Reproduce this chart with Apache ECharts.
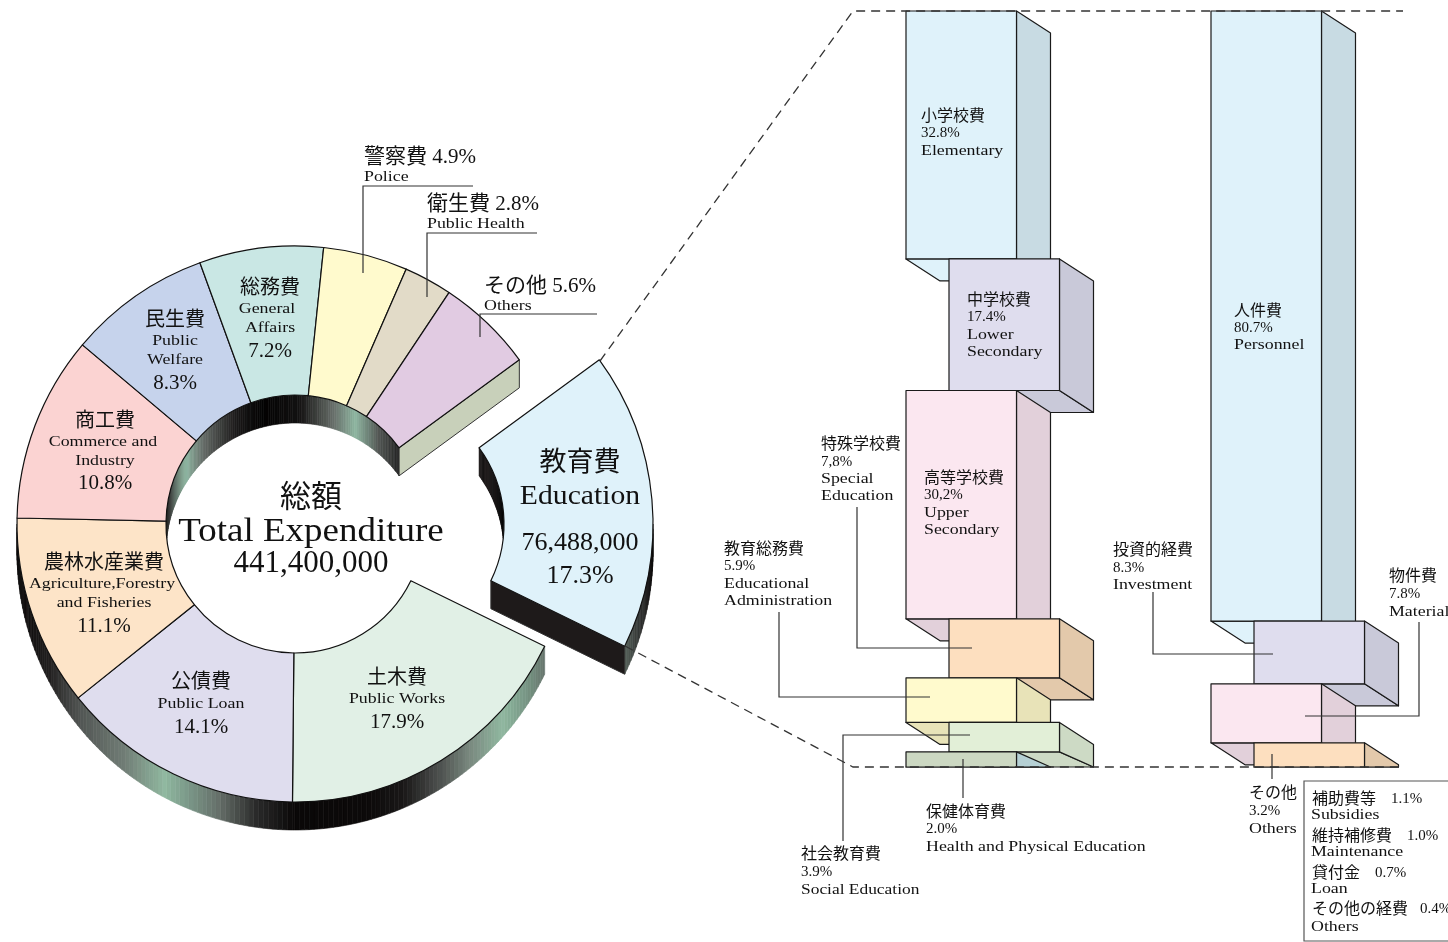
<!DOCTYPE html>
<html><head><meta charset="utf-8">
<style>html,body{margin:0;padding:0;background:#fff}#c{width:1448px;height:942px}</style>
<script src="https://cdn.jsdelivr.net/npm/echarts@6/dist/echarts.min.js"></script>
</head><body><div id="c"></div>
<script>
// ---------- data ----------
const pieCategories = ['教育費','土木費','公債費','農林水産業費','商工費','民生費','総務費','警察費','衛生費','その他'];
const pieValues = [17.3,17.9,14.1,11.1,10.8,8.3,7.2,4.9,2.8,5.6];
const pieColors = ['#dff2fa','#e1f0e6','#dfddee','#fde4c8','#fbd3d2','#c6d3ec','#c9e7e4','#fffacd','#e2dbc8','#e1cbe2'];

const purposeNames = ['小学校費','中学校費','高等学校費','特殊学校費','教育総務費','社会教育費','保健体育費'];
const purposeValues = [32.8,17.4,30.2,7.8,5.9,3.9,2.0];
const purposeFront = ['#dff2fa','#dfddee','#fbe7f0','#fddfbf','#fffacd','#e2efd7','#ccd8c2'];
const purposeSide  = ['#c8dbe3','#c9c9d9','#e2d0da','#e3c9ab','#e8e3b8','#cddac5','#b5d0d4'];
const purposeUnder = ['#dff2fa','#c9c9d9','#e2d0da','#e3c9ab','#e8e3b8','#cddac5','#b5d0d4'];

const natureNames = ['人件費','投資的経費','物件費','その他'];
const natureValues = [80.7,8.3,7.8,3.2];
const natureFront = ['#dff2fa','#dfddee','#fbe7f0','#fddfbf'];
const natureSide  = ['#c8dbe3','#c9c9d9','#e2d0da','#e3c9ab'];
const natureUnder = ['#dff2fa','#c9c9d9','#e2d0da','#e3c9ab'];

// ---------- geometry / style ----------
const C = [295,524], RO = 278, RI = 129, EXPLODE = 80, WALL = 28, START = 53.8;
const BW = 110.5, STAGGER = 43, DX = 34, DY = 22;
const SERIF = '"Liberation Serif","Noto Sans CJK JP",serif';

const shadeEduOuter = [[90,'#060606'],[100,'#141212'],[110,'#3a3d3b'],[117,'#5e6a62']];
const shadeOuter = [[116,'#66746c'],[125,'#7a9a88'],[132,'#90b8a0'],[141,'#7a8a80'],[149,'#4c4f4d'],[157,'#1a1818'],[165,'#0c0a0a'],[180,'#0a0808'],[188,'#2a2a2a'],[196,'#66706a'],[203,'#7c9a8a'],[208,'#90b8a0'],[218,'#707c75'],[231,'#505452'],[242,'#222020'],[255,'#100e0e'],[270,'#0e0c0c']];
const shadeInner = [[270,'#111111'],[285,'#3a3c3b'],[303,'#8db5a0'],[315,'#666c68'],[333,'#1c1a1a'],[346,'#030303'],[362,'#141212'],[377,'#666c68'],[388,'#8db5a0'],[400,'#555a57'],[414,'#222222']];
const shadeEduInner = [[53,'#1a1616'],[90,'#060606']];

function pt(c,r,deg,dy){const a=deg*Math.PI/180;return [c[0]+r*Math.sin(a),c[1]-r*Math.cos(a)+(dy||0)];}
function hex(s){return [1,3,5].map(i=>parseInt(s.substr(i,2),16));}
function shade(tbl,a){
  if(a<=tbl[0][0])return tbl[0][1];
  for(let i=1;i<tbl.length;i++){
    if(a<=tbl[i][0]){const t=(a-tbl[i-1][0])/(tbl[i][0]-tbl[i-1][0]),p=hex(tbl[i-1][1]),q=hex(tbl[i][1]);
      return 'rgb('+p.map((v,k)=>Math.round(v+(q[k]-v)*t)).join(',')+')';}
  }
  return tbl[tbl.length-1][1];
}
function strips(c,r,a0,a1,tbl,out){
  for(let a=a0;a<a1;a+=1){
    const b=Math.min(a+1,a1), col=shade(tbl,(a+b)/2);
    out.push({type:'polygon',shape:{points:[pt(c,r,a),pt(c,r,b),pt(c,r,b,WALL),pt(c,r,a,WALL)]},style:{fill:col,stroke:col,lineWidth:0.6},silent:true});
  }
}
function face(c,a,fill,out){
  out.push({type:'polygon',shape:{points:[pt(c,RI,a),pt(c,RO,a),pt(c,RO,a,WALL),pt(c,RI,a,WALL)]},style:{fill:fill,stroke:'#333',lineWidth:1},silent:true});
}
function sliceAngles(i){let s=0;for(let k=0;k<i;k++)s+=pieValues[k];return [START+s*3.6,START+(s+pieValues[i])*3.6];}

function renderWall(params){
  const i=params.dataIndex,[a0,a1]=sliceAngles(i),kids=[];
  if(i===0){
    const c=[C[0]+EXPLODE,C[1]];
    strips(c,RI,a0,90,shadeEduInner,kids);
    strips(c,RO,90,a1,shadeEduOuter,kids);
    face(c,a1,'#1e1a1a',kids);
  }else{
    if(a0<270)strips(C,RO,a0,Math.min(a1,270),shadeOuter,kids);
    if(a1>270)strips(C,RI,Math.max(a0,270),a1,shadeInner,kids);
    if(i===pieValues.length-1)face(C,a1,'#c8d0ba',kids);
  }
  return {type:'group',children:kids};
}
function renderBlock(params,api){
  const col=api.value(0),top=api.coord([col,api.value(1)]),bot=api.coord([col,api.value(2)]);
  const ymax=api.coord([col,100])[1], x0=top[0]+api.value(3)*STAGGER, x1=x0+BW;
  const front=col===0?purposeFront:natureFront, side=col===0?purposeSide:natureSide, under=col===0?purposeUnder:natureUnder;
  const k=api.value(4), Y=y=>Math.min(y,ymax), st={stroke:'#1a1a1a',lineWidth:1.2,lineJoin:'round'};
  const kids=[
   {type:'polygon',shape:{points:[[x0,Y(bot[1])],[x1,Y(bot[1])],[x1+DX,Y(bot[1]+DY)],[x0+DX,Y(bot[1]+DY)]]},style:Object.assign({fill:under[k]},st)},
   {type:'polygon',shape:{points:[[x1,top[1]],[x1+DX,Y(top[1]+DY)],[x1+DX,Y(bot[1]+DY)],[x1,Y(bot[1])]]},style:Object.assign({fill:side[k]},st)},
   {type:'rect',shape:{x:x0,y:top[1],width:BW,height:bot[1]-top[1]},style:Object.assign({fill:front[k]},st)}
  ];
  return {type:'group',children:kids};
}
function blocks(col,vals){let s=0;return vals.map((v,i)=>{const r=[col,s,s+v,i%2,i];s+=v;return r;});}

// ---------- text layout: [text, x, y, size, align, xScale] ----------
const L=1.19;
const textLayout = [
 ['総額',311,496,31,'center'],['Total Expenditure',311,529,33,'center',1.12],['441,400,000',311,561,31,'center'],
 ['教育費',580,461,27,'center'],['Education',580,494,27,'center',1.1],['76,488,000',580,541,26,'center'],['17.3%',580,574,26,'center'],
 ['土木費',397,677,20,'center'],['Public Works',397,698,15,'center',L],['17.9%',397,720,21,'center'],
 ['公債費',201,681,20,'center'],['Public Loan',201,703,15,'center',L],['14.1%',201,725,21,'center'],
 ['農林水産業費',104,562,20,'center'],['Agriculture,Forestry',102,583,15,'center',1.19],['and Fisheries',104,602,15,'center',L],['11.1%',104,624,21,'center'],
 ['商工費',105,420,20,'center'],['Commerce and',103,441,15,'center',L],['Industry',105,460,15,'center',L],['10.8%',105,481,21,'center'],
 ['民生費',175,319,20,'center'],['Public',175,340,15,'center',L],['Welfare',175,359,15,'center',L],['8.3%',175,381,21,'center'],
 ['総務費',270,287,20,'center'],['General',267,308,15,'center',L],['Affairs',270,327,15,'center',L],['7.2%',270,349,21,'center'],
 ['警察費 4.9%',364,155,21,'left'],['Police',364,176,15,'left',L],
 ['衛生費 2.8%',427,202,21,'left'],['Public Health',427,223,15,'left',L],
 ['その他 5.6%',484,284,21,'left'],['Others',484,305,15,'left',L],
 ['小学校費',921,115,16,'left'],['32.8%',921,132,15,'left'],['Elementary',921,150,15,'left',L],
 ['中学校費',967,299,16,'left'],['17.4%',967,316,15,'left'],['Lower',967,334,15,'left',L],['Secondary',967,351,15,'left',L],
 ['高等学校費',924,477,16,'left'],['30,2%',924,494,15,'left'],['Upper',924,512,15,'left',L],['Secondary',924,529,15,'left',L],
 ['特殊学校費',821,443,16,'left'],['7,8%',821,461,15,'left'],['Special',821,478,15,'left',L],['Education',821,495,15,'left',L],
 ['教育総務費',724,548,16,'left'],['5.9%',724,565,15,'left'],['Educational',724,583,15,'left',L],['Administration',724,600,15,'left',L],
 ['社会教育費',801,853,16,'left'],['3.9%',801,871,15,'left'],['Social Education',801,889,15,'left',1.16],
 ['保健体育費',926,811,16,'left'],['2.0%',926,828,15,'left'],['Health and Physical Education',926,846,15,'left',L],
 ['人件費',1234,310,16,'left'],['80.7%',1234,327,15,'left'],['Personnel',1234,344,15,'left',L],
 ['投資的経費',1113,549,16,'left'],['8.3%',1113,567,15,'left'],['Investment',1113,584,15,'left',L],
 ['物件費',1389,575,16,'left'],['7.8%',1389,593,15,'left'],['Material',1389,611,15,'left',L],
 ['その他',1249,792,16,'left'],['3.2%',1249,810,15,'left'],['Others',1249,828,15,'left',L],
 ['補助費等',1312,798,16,'left'],['1.1%',1391,798,15,'left'],['Subsidies',1311,814,15,'left',L],
 ['維持補修費',1312,835,16,'left'],['1.0%',1407,835,15,'left'],['Maintenance',1311,851,15,'left',L],
 ['貸付金',1312,872,16,'left'],['0.7%',1375,872,15,'left'],['Loan',1311,888,15,'left',L],
 ['その他の経費',1312,908,16,'left'],['0.4%',1420,908,15,'left'],['Others',1311,926,15,'left',L]
];
const leaders = [
 [[473,186],[363,186],[363,273]],[[537,233],[427,233],[427,297]],[[597,314],[480,314],[480,337]],
 [[857,507],[857,648],[972,648]],[[779,612],[779,697],[930,697]],[[843,841],[843,735],[970,735]],[[963,759],[963,798]],
 [[1153,592],[1153,654],[1273,654]],[[1419,622],[1419,716],[1305,716]],[[1272,754],[1272,779]]
];
const dashed = [[[600,361],[853,11],[1403,11]],[[625,646],[853,767],[1403,767]]];

const gfx=[];
dashed.forEach(p=>gfx.push({type:'polyline',z:50,silent:true,shape:{points:p},style:{fill:null,stroke:'#333',lineWidth:1.3,lineDash:[9,6]}}));
leaders.forEach(p=>gfx.push({type:'polyline',z:60,silent:true,shape:{points:p},style:{fill:null,stroke:'#333',lineWidth:1.2}}));
gfx.push({type:'rect',z:60,silent:true,shape:{x:1304,y:781,width:160,height:160},style:{fill:'#fff',stroke:'#555',lineWidth:1.2}});
textLayout.forEach(t=>gfx.push({type:'text',z:70,silent:true,x:t[1],y:t[2]+t[3]*0.1,scaleX:t[5]||1,
  style:{text:t[0],x:0,y:0,fill:'#111',fontFamily:SERIF,fontSize:t[3],align:t[4],verticalAlign:'middle'}}));

function pieData(show){
  return pieCategories.map((n,i)=>({name:n,value:pieValues[i],
    itemStyle:show(i)?{color:pieColors[i],borderColor:'#111',borderWidth:1.2}:{color:'rgba(0,0,0,0)',borderWidth:0}}));
}
const pieBase={type:'pie',radius:[RI,RO],startAngle:90-START,clockwise:true,z:3,silent:true,animation:false,label:{show:false},labelLine:{show:false},emphasis:{disabled:true},avoidLabelOverlap:false};

const chart=echarts.init(document.getElementById('c'),null,{renderer:'canvas'});
chart.setOption({
  animation:false,backgroundColor:'#fff',
  grid:{left:906,top:11,width:305,height:756,containLabel:false},
  xAxis:{type:'category',data:['目的別','性質別'],boundaryGap:false,show:false},
  yAxis:{type:'value',min:0,max:100,inverse:true,show:false},
  series:[
    {type:'custom',coordinateSystem:'none',z:1,silent:true,renderItem:renderWall,data:pieValues.map((v,i)=>[i,v])},
    Object.assign({},pieBase,{center:C,data:pieData(i=>i!==0)}),
    Object.assign({},pieBase,{center:[C[0]+EXPLODE,C[1]],data:pieData(i=>i===0)}),
    {type:'custom',coordinateSystem:'cartesian2d',z:4,silent:true,clip:false,renderItem:renderBlock,encode:{x:0,y:[1,2]},data:blocks(0,purposeValues)},
    {type:'custom',coordinateSystem:'cartesian2d',z:4,silent:true,clip:false,renderItem:renderBlock,encode:{x:0,y:[1,2]},data:blocks(1,natureValues)}
  ],
  graphic:{elements:gfx}
});
</script></body></html>
